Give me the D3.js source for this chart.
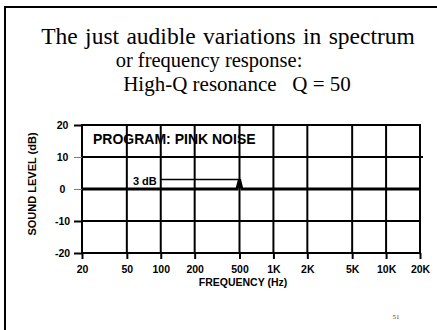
<!DOCTYPE html>
<html>
<head>
<meta charset="utf-8">
<script src="https://cdn.jsdelivr.net/npm/d3@7/dist/d3.min.js"></script>
<style>
  html, body { margin: 0; padding: 0; background: #fff; }
  svg { display: block; }
</style>
</head>
<body>
<script>
// Title lines of the slide
const titleLines = [
  "The just audible variations in spectrum",
  "or frequency response:",
  "High-Q resonance \u00a0 Q = 50"
];

// Axis ticks
const freqTicks = [20, 50, 100, 200, 500, 1000, 2000, 5000, 10000, 20000];
const freqTickLabels = ["20", "50", "100", "200", "500", "1K", "2K", "5K", "10K", "20K"];
const levelTicks = [20, 10, 0, -10, -20];
const levelTickLabels = ["20", "10", "0", "-10", "-20"];

// Response: flat pink noise with a narrow 3 dB resonance peak at 500 Hz
const responseFreq = [20, 475, 500, 525, 20000];
const responseLevel = [0, 0, 3, 0, 0];

// Annotation of the peak height
const peakLabel = "3 dB";
const peakFrom = 100, peakAt = 500, peakLevel = 3;

const programLabel = "PROGRAM: PINK NOISE";
const pageNumber = "51";

const W = 437, H = 330;
const plot = { left: 82, right: 420, top: 125, bottom: 253 };
const sans = "'Liberation Sans', Arial, Helvetica, sans-serif";
const serif = "'Liberation Serif', 'Times New Roman', serif";

const svg = d3.select("body").append("svg")
  .attr("width", W).attr("height", H);

svg.append("rect").attr("width", W).attr("height", H).attr("fill", "#fff");

// Slide frame (top and left edges visible)
svg.append("path")
  .attr("d", `M5,${H} L5,7 L${W},7`)
  .attr("fill", "none").attr("stroke", "#000").attr("stroke-width", 2);

// Title
const titleX = [228, 209, 237];
const titleY = [44, 67, 91];
const titleSize = [23.5, 20.5, 21];
const titleWordSpacing = [1.5, 0, 0];
svg.append("g").selectAll("text").data(titleLines).join("text")
  .attr("x", (d, i) => titleX[i]).attr("y", (d, i) => titleY[i])
  .attr("text-anchor", "middle")
  .attr("font-family", serif).attr("font-size", (d, i) => titleSize[i])
  .attr("word-spacing", (d, i) => titleWordSpacing[i])
  .attr("fill", "#000")
  .text(d => d);

const x = d3.scaleLog().domain([20, 20000]).range([plot.left, plot.right]);
const y = d3.scaleLinear().domain([-20, 20]).range([plot.bottom, plot.top]);

const g = svg.append("g");

// Program label
g.append("text")
  .attr("x", plot.left + 11).attr("y", plot.top + 19)
  .attr("font-family", sans).attr("font-weight", "bold").attr("font-size", 14)
  .attr("fill", "#000")
  .text(programLabel);

// Peak annotation
g.append("text")
  .attr("x", x(peakFrom) - 4).attr("y", y(peakLevel) + 5.5)
  .attr("text-anchor", "end")
  .attr("font-family", sans).attr("font-weight", "bold").attr("font-size", 11)
  .attr("fill", "#000")
  .text(peakLabel);
g.append("line")
  .attr("x1", x(peakFrom)).attr("x2", x(peakAt))
  .attr("y1", y(peakLevel)).attr("y2", y(peakLevel))
  .attr("stroke", "#000").attr("stroke-width", 1.5);

// Vertical grid lines
g.append("g").selectAll("line").data(freqTicks.slice(1, -1)).join("line")
  .attr("x1", d => x(d)).attr("x2", d => x(d))
  .attr("y1", plot.top).attr("y2", plot.bottom)
  .attr("stroke", "#000").attr("stroke-width", 2);

// Horizontal grid lines (the 0 dB line is the response itself)
g.append("g").selectAll("line").data([10, -10]).join("line")
  .attr("x1", plot.left).attr("x2", d => d === 10 ? plot.right + 3 : plot.right)
  .attr("y1", d => y(d)).attr("y2", d => y(d))
  .attr("stroke", "#000").attr("stroke-width", 2);

// Plot frame
g.append("rect")
  .attr("x", plot.left).attr("y", plot.top)
  .attr("width", plot.right - plot.left).attr("height", plot.bottom - plot.top)
  .attr("fill", "none").attr("stroke", "#000").attr("stroke-width", 2);

// Response curve
const resp = responseFreq.map((f, i) => [f, responseLevel[i]]);
g.append("path")
  .datum(resp)
  .attr("d", d3.line().x(d => x(d[0])).y(d => y(d[1])))
  .attr("fill", "none").attr("stroke", "#000").attr("stroke-width", 3)
  .attr("stroke-linejoin", "miter");

// Y axis
const yAxis = d3.axisLeft(y).tickValues(levelTicks)
  .tickFormat((d, i) => levelTickLabels[i]).tickSize(8).tickPadding(10);
const ya = g.append("g").attr("transform", `translate(${plot.left},0)`).call(yAxis);
ya.select(".domain").remove();
ya.selectAll(".tick line")
  .attr("stroke", d => (d === 10 || d === 0) ? "#777" : "#000")
  .attr("stroke-width", d => (d === 10 || d === 0) ? 1 : 2);
ya.selectAll(".tick text")
  .attr("text-anchor", "middle").attr("x", -19.5)
  .attr("font-family", sans).attr("font-weight", "bold").attr("font-size", 10.5)
  .attr("fill", "#000");

// X axis
const xAxis = d3.axisBottom(x).tickValues(freqTicks)
  .tickFormat((d, i) => freqTickLabels[i]).tickSize(6).tickPadding(7);
const xa = g.append("g").attr("transform", `translate(0,${plot.bottom})`).call(xAxis);
xa.select(".domain").remove();
xa.selectAll(".tick line").attr("stroke", "#000").attr("stroke-width", 2);
xa.selectAll(".tick text")
  .attr("font-family", sans).attr("font-weight", "bold").attr("font-size", 10.5)
  .attr("fill", "#000");

// Axis titles
g.append("text")
  .attr("x", 243).attr("y", 286)
  .attr("text-anchor", "middle")
  .attr("font-family", sans).attr("font-weight", "bold").attr("font-size", 10.5)
  .attr("fill", "#000")
  .text("FREQUENCY (Hz)");

g.append("text")
  .attr("transform", "translate(36,184) rotate(-90)")
  .attr("text-anchor", "middle")
  .attr("font-family", sans).attr("font-weight", "bold").attr("font-size", 11)
  .attr("fill", "#000")
  .text("SOUND LEVEL (dB)");

// Page number
svg.append("text")
  .attr("x", 396).attr("y", 319)
  .attr("text-anchor", "middle")
  .attr("font-family", serif).attr("font-size", 7)
  .attr("fill", "#444")
  .text(pageNumber);
</script>
</body>
</html>
